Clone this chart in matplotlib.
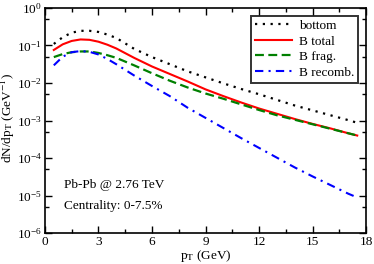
import numpy as np
import matplotlib.pyplot as plt
from matplotlib.ticker import MultipleLocator, LogLocator, NullFormatter

plt.rcParams['font.family'] = ['Liberation Serif', 'DejaVu Serif']
plt.rcParams['mathtext.fontset'] = 'stix'

# values (log10 of dN/dpT)
pt = [0.5, 1.0, 1.5, 2.0, 2.5, 3.0, 3.5, 4.0, 5.0, 6.0, 7.0, 8.0, 9.0,
      10.0, 11.0, 12.0, 13.0, 14.0, 15.0, 16.0, 17.0, 17.5]
log_bottom = [-0.96, -0.78, -0.66, -0.61, -0.61, -0.64, -0.71, -0.80, -1.09, -1.31,
              -1.50, -1.69, -1.85, -2.01, -2.16, -2.30, -2.45, -2.60, -2.73, -2.86,
              -2.99, -3.06]
log_total = [-1.12, -0.97, -0.88, -0.84, -0.85, -0.90, -0.98, -1.08, -1.33, -1.56,
             -1.76, -1.96, -2.17, -2.35, -2.52, -2.68, -2.82, -2.96, -3.09, -3.21,
             -3.34, -3.40]
log_frag = [-1.31, -1.23, -1.18, -1.16, -1.16, -1.20, -1.26, -1.33, -1.53, -1.74,
            -1.94, -2.12, -2.28, -2.42, -2.57, -2.72, -2.86, -2.98, -3.10, -3.22,
            -3.34, -3.40]
pt_rec = [0.5, 1.0, 1.5, 2.0, 2.5, 3.0, 3.5, 4.0, 5.0, 6.0, 7.0, 8.0, 9.0,
          10.0, 11.0, 12.0, 13.0, 14.0, 15.0, 16.0, 17.0, 17.3]
log_recomb = [-1.53, -1.30, -1.18, -1.15, -1.17, -1.24, -1.36, -1.50, -1.80, -2.08,
              -2.35, -2.66, -2.93, -3.20, -3.47, -3.73, -3.99, -4.25, -4.49, -4.72,
              -4.95, -5.01]

fs = 9.5

fig = plt.figure(figsize=(3.74, 2.64), dpi=100)
ax = fig.add_axes([0.120, 0.117, 0.859, 0.853])

ax.plot(pt, 10 ** np.array(log_bottom), color='black', lw=1.6, ls=(0, (1, 2.5)), label='bottom')
ax.plot(pt, 10 ** np.array(log_total), color='red', lw=1.5, ls='-', label='B total')
ax.plot(pt, 10 ** np.array(log_frag), color='green', lw=1.6, ls=(0, (4, 2)), label='B frag.')
ax.plot(pt_rec, 10 ** np.array(log_recomb), color='blue', lw=1.5, ls=(0, (4, 2.5, 1, 2.5)), label='B recomb.')

ax.set_yscale('log')
ax.set_xlim(0, 18)
ax.set_ylim(1e-6, 1)
ax.xaxis.set_major_locator(MultipleLocator(3))
ax.xaxis.set_minor_locator(MultipleLocator(1.5))
ax.yaxis.set_major_locator(LogLocator(base=10, numticks=10))
ax.yaxis.set_minor_locator(LogLocator(base=10, subs=[5], numticks=10))
ax.yaxis.set_minor_formatter(NullFormatter())

ax.tick_params(which='both', direction='in', top=True, right=True, labelsize=fs)
ax.tick_params(which='major', length=5, width=1)
ax.tick_params(which='minor', length=3, width=1)
ax.tick_params(axis='x', pad=2)
ax.tick_params(axis='y', pad=2)
for s in ax.spines.values():
    s.set_linewidth(1.2)

ax.set_xlabel(r'p$_\mathrm{T}$ (GeV)', fontsize=fs)
ax.set_ylabel(r'dN/dp$_\mathrm{T}$ (GeV$^{-1}$)', fontsize=fs)
ax.xaxis.set_label_coords(0.5, -0.067)
ax.yaxis.set_label_coords(-0.088, 0.51)

ax.text(0.06, 0.215, 'Pb-Pb @ 2.76 TeV', transform=ax.transAxes, fontsize=fs, va='center')
ax.text(0.06, 0.12, 'Centrality: 0-7.5%', transform=ax.transAxes, fontsize=fs, va='center')

leg = ax.legend(loc='upper right', fontsize=fs, frameon=True, fancybox=False,
                edgecolor='black', handlelength=2.8, handletextpad=0.5,
                labelspacing=0.25, borderpad=0.3, borderaxespad=0.6)
leg.get_frame().set_linewidth(1.4)

fig.savefig('out.png', dpi=100)
